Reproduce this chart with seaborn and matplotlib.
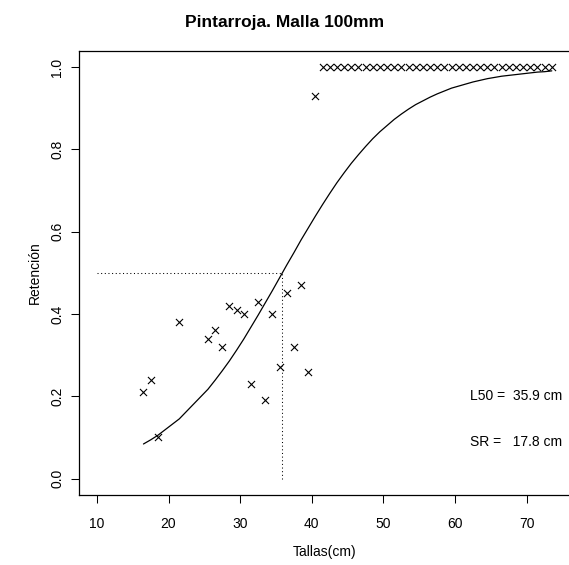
import matplotlib
matplotlib.use("Agg")
import matplotlib.pyplot as plt
import seaborn as sns
import pandas as pd

# ---- data ----
lengths = [16.5, 17.5, 18.5, 21.5, 25.5, 26.5, 27.5, 28.5, 29.5, 30.5,
           31.5, 32.5, 33.5, 34.5, 35.5, 36.5, 37.5, 38.5, 39.5, 40.5,
           41.5, 42.5, 43.5, 44.5, 45.5, 46.5, 47.5, 48.5, 49.5, 50.5,
           51.5, 52.5, 53.5, 54.5, 55.5, 56.5, 57.5, 58.5, 59.5, 60.5,
           61.5, 62.5, 63.5, 64.5, 65.5, 66.5, 67.5, 68.5, 69.5, 70.5,
           71.5, 72.5, 73.5]
retention = [0.21, 0.24, 0.10, 0.38, 0.34, 0.36, 0.32, 0.42, 0.41, 0.40,
             0.23, 0.43, 0.19, 0.40, 0.27, 0.45, 0.32, 0.47, 0.26, 0.93,
             1.0, 1.0, 1.0, 1.0, 1.0, 1.0, 1.0, 1.0, 1.0, 1.0,
             1.0, 1.0, 1.0, 1.0, 1.0, 1.0, 1.0, 1.0, 1.0, 1.0,
             1.0, 1.0, 1.0, 1.0, 1.0, 1.0, 1.0, 1.0, 1.0, 1.0,
             1.0, 1.0, 1.0]
fitted = [0.084, 0.094, 0.105, 0.145, 0.217, 0.239, 0.262, 0.286, 0.312, 0.339,
          0.368, 0.397, 0.427, 0.457, 0.488, 0.519, 0.549, 0.580, 0.609, 0.638,
          0.666, 0.693, 0.719, 0.743, 0.766, 0.787, 0.807, 0.826, 0.843, 0.858,
          0.873, 0.886, 0.898, 0.909, 0.918, 0.927, 0.935, 0.942, 0.949, 0.954,
          0.959, 0.964, 0.968, 0.972, 0.975, 0.978, 0.980, 0.982, 0.984, 0.986,
          0.988, 0.989, 0.991]
x_ticks = [10, 20, 30, 40, 50, 60, 70]
y_ticks = [0.0, 0.2, 0.4, 0.6, 0.8, 1.0]
y_tick_labels = ["0.0", "0.2", "0.4", "0.6", "0.8", "1.0"]
L50 = 35.9
SR = 17.8
ref_start = 10
title = "Pintarroja. Malla 100mm"
xlabel = "Tallas(cm)"
ylabel = "Retención"

sns.set_theme(style="white")
plt.rcParams["font.family"] = ["Liberation Sans", "DejaVu Sans"]

W, H = 569, 565
fig = plt.figure(figsize=(W / 100, H / 100), dpi=100)
left, right, top, bottom = 78.7, 570.0, 50.7, 495.0
ax = fig.add_axes([left / W, 1 - bottom / H, (right - left) / W, (bottom - top) / H])

df = pd.DataFrame({"Tallas": lengths, "Retencion": retention, "Ajuste": fitted})

sns.lineplot(data=df, x="Tallas", y="Ajuste", color="black", linewidth=0.9,
             estimator=None, ax=ax)
sns.scatterplot(data=df, x="Tallas", y="Retencion", marker="x", color="black",
                s=26, linewidth=0.8, ax=ax)

ax.hlines(0.5, ref_start, L50, colors="black", linewidth=0.75,
          linestyles=(0, (1, 2.5)))
ax.vlines(L50, 0.0, 0.5, colors="black", linewidth=0.75,
          linestyles=(0, (1, 2.5)))

ax.text(68.5, 0.2, f"L50 =  {L50} cm", ha="center", va="center", fontsize=10, color="black")
ax.text(68.5, 0.09, f"SR =   {SR} cm", ha="center", va="center", fontsize=10, color="black")

ax.set_xlim(7.46, 76.04)
ax.set_ylim(-0.04, 1.04)
ax.set_xticks(x_ticks)
ax.set_yticks(y_ticks)
ax.set_yticklabels(y_tick_labels, rotation=90, va="center")
ax.tick_params(axis="both", direction="out", length=6, width=0.75,
               colors="black", labelsize=10, bottom=True, left=True)
ax.tick_params(axis="x", pad=10)
ax.tick_params(axis="y", pad=4.5)
for sp in ax.spines.values():
    sp.set_color("black")
    sp.set_linewidth(0.9)
    sp.set_visible(True)

ax.set_xlabel("")
ax.set_ylabel("")
fig.text(325 / W, 1 - 552 / H, xlabel, ha="center", va="center", fontsize=10, color="black")
fig.text(35 / W, 1 - 273 / H, ylabel, ha="center", va="center", rotation=90,
         fontsize=10, color="black")
fig.text(0.5, 1 - 23 / H, title, ha="center", va="center", fontsize=12.5,
         fontweight="bold", color="black")

fig.savefig("out.png", dpi=100)
